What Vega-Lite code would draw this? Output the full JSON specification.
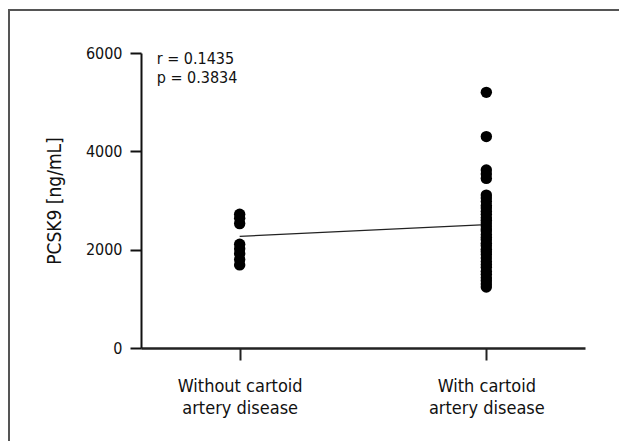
{
  "$schema": "https://vega.github.io/schema/vega-lite/v6.json",
  "autosize": "none",
  "padding": {"left": 9, "top": 10, "right": 0, "bottom": 0},
  "width": 620,
  "height": 440,
  "background": "white",
  "config": {
    "view": {"stroke": "#555555", "strokeWidth": 2},
    "font": "DejaVu Sans Condensed"
  },
  "datasets": {
    "points": [
      {"group": "Without cartoid|artery disease", "value": 2720},
      {"group": "Without cartoid|artery disease", "value": 2640},
      {"group": "Without cartoid|artery disease", "value": 2530},
      {"group": "Without cartoid|artery disease", "value": 2110},
      {"group": "Without cartoid|artery disease", "value": 2020},
      {"group": "Without cartoid|artery disease", "value": 1920},
      {"group": "Without cartoid|artery disease", "value": 1800},
      {"group": "Without cartoid|artery disease", "value": 1690},
      {"group": "With cartoid|artery disease", "value": 5200},
      {"group": "With cartoid|artery disease", "value": 4300},
      {"group": "With cartoid|artery disease", "value": 3620},
      {"group": "With cartoid|artery disease", "value": 3540},
      {"group": "With cartoid|artery disease", "value": 3450},
      {"group": "With cartoid|artery disease", "value": 3110},
      {"group": "With cartoid|artery disease", "value": 3050},
      {"group": "With cartoid|artery disease", "value": 2980},
      {"group": "With cartoid|artery disease", "value": 2900},
      {"group": "With cartoid|artery disease", "value": 2850},
      {"group": "With cartoid|artery disease", "value": 2780},
      {"group": "With cartoid|artery disease", "value": 2720},
      {"group": "With cartoid|artery disease", "value": 2650},
      {"group": "With cartoid|artery disease", "value": 2600},
      {"group": "With cartoid|artery disease", "value": 2540},
      {"group": "With cartoid|artery disease", "value": 2480},
      {"group": "With cartoid|artery disease", "value": 2420},
      {"group": "With cartoid|artery disease", "value": 2380},
      {"group": "With cartoid|artery disease", "value": 2310},
      {"group": "With cartoid|artery disease", "value": 2250},
      {"group": "With cartoid|artery disease", "value": 2200},
      {"group": "With cartoid|artery disease", "value": 2130},
      {"group": "With cartoid|artery disease", "value": 2080},
      {"group": "With cartoid|artery disease", "value": 2010},
      {"group": "With cartoid|artery disease", "value": 1960},
      {"group": "With cartoid|artery disease", "value": 1900},
      {"group": "With cartoid|artery disease", "value": 1830},
      {"group": "With cartoid|artery disease", "value": 1760},
      {"group": "With cartoid|artery disease", "value": 1700},
      {"group": "With cartoid|artery disease", "value": 1640},
      {"group": "With cartoid|artery disease", "value": 1560},
      {"group": "With cartoid|artery disease", "value": 1500},
      {"group": "With cartoid|artery disease", "value": 1430},
      {"group": "With cartoid|artery disease", "value": 1370},
      {"group": "With cartoid|artery disease", "value": 1300},
      {"group": "With cartoid|artery disease", "value": 1240}
    ],
    "fit": [
      {"group": "Without cartoid|artery disease", "value": 2270},
      {"group": "With cartoid|artery disease", "value": 2510}
    ],
    "stats": [
      {"label": "r = 0.1435", "value": 5770},
      {"label": "p = 0.3834", "value": 5380}
    ]
  },
  "encoding": {
    "x": {
      "field": "group",
      "type": "nominal",
      "sort": ["Without cartoid|artery disease", "With cartoid|artery disease"],
      "scale": {
        "type": "point",
        "domain": ["Without cartoid|artery disease", "With cartoid|artery disease"],
        "range": [132, 576],
        "padding": 0.4
      },
      "axis": {
        "title": null,
        "offset": -102,
        "domainColor": "#222222",
        "domainWidth": 2.5,
        "tickColor": "#222222",
        "tickWidth": 2,
        "tickSize": 12,
        "labelExpr": "split(datum.label, '|')",
        "labelAngle": 0,
        "labelFontSize": 18,
        "labelLineHeight": 22,
        "labelPadding": 17,
        "labelColor": "#111111",
        "grid": false
      }
    },
    "y": {
      "field": "value",
      "type": "quantitative",
      "scale": {"domain": [0, 6000], "range": [338, 43], "nice": false},
      "axis": {
        "title": "PCSK9 [ng/mL]",
        "offset": -132,
        "values": [0, 2000, 4000, 6000],
        "format": "d",
        "domainColor": "#111111",
        "domainWidth": 2,
        "tickColor": "#111111",
        "tickWidth": 2,
        "tickSize": 11,
        "labelFontSize": 16,
        "labelPadding": 8,
        "labelColor": "#111111",
        "titleFontSize": 19,
        "titleFontWeight": "normal",
        "titleColor": "#111111",
        "titlePadding": 21,
        "grid": false
      }
    }
  },
  "layer": [
    {
      "data": {"name": "fit"},
      "mark": {"type": "line", "color": "#222222", "strokeWidth": 1.3}
    },
    {
      "data": {"name": "points"},
      "mark": {"type": "circle", "color": "#000000", "size": 130, "opacity": 1}
    },
    {
      "data": {"name": "stats"},
      "mark": {"type": "text", "align": "left", "baseline": "alphabetic", "dx": -83, "fontSize": 16, "color": "#111111"},
      "encoding": {
        "x": {"datum": "Without cartoid|artery disease"},
        "text": {"field": "label"}
      }
    }
  ]
}
